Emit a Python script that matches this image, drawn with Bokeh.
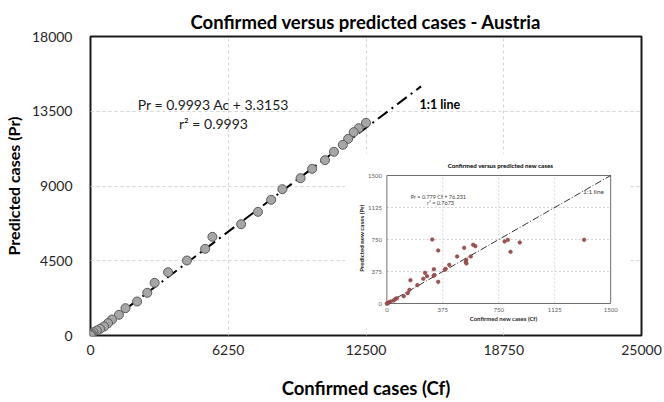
import math
from bokeh.plotting import figure
from bokeh.models import Range1d, FixedTicker, Label
from bokeh.core.properties import value
from bokeh.embed import file_html
from bokeh.resources import INLINE

# ---------------- data ----------------
# main chart: confirmed vs predicted cumulative cases
cf = [12499, 12170, 11944, 11690, 11450, 11046, 10641, 10057, 9532, 8708, 8197,
      7598, 6834, 5530, 5201, 4375, 3520, 2909, 2577, 2113, 1587, 1290, 976, 796,
      616, 436, 283, 135, 60, 20, 5]
pr = [12804, 12480, 12240, 11840, 11480, 11060, 10555, 10035, 9470, 8808, 8170,
      7445, 6700, 5940, 5218, 4515, 3810, 3170, 2570, 2047, 1645, 1245, 963, 742,
      542, 401, 301, 200, 110, 40, 10]
one_to_one_x = [0, 15000]
one_to_one_y = [0, 15000]
x_ticks = [0, 6250, 12500, 18750, 25000]
y_ticks = [0, 4500, 9000, 13500, 18000]

# inset: confirmed vs predicted new cases
new_cf = [304, 344, 518, 578, 593, 789, 811, 891, 829, 1322, 471, 562, 531, 529,
          533, 418, 393, 389, 315, 318, 313, 256, 269, 244, 344, 204, 158, 151,
          140, 113, 67, 56, 44, 24, 11, 7, 2, 0]
new_pr = [750, 621, 652, 688, 672, 727, 746, 715, 606, 746, 551, 551, 512, 484,
          470, 453, 406, 395, 402, 334, 325, 359, 320, 289, 254, 215, 273, 160,
          121, 86, 62, 51, 35, 23, 12, 4, 0, 0]
inset_line = [0, 1500]
inset_ticks = [0, 375, 750, 1125, 1500]

# ---------------- layout constants (pixels) ----------------
FONT = "Lato"
W, H = 664, 402
FL, FR, FT, FB = 87, 641, 36, 335          # main frame
IL, IR, IT, IB = 385, 610, 175, 303        # inset frame
BL, BR, BT, BB = 343, 627, 153, 328        # inset white panel
XMAX, YMAX = x_ticks[-1], y_ticks[-1]

p = figure(width=W, height=H, output_backend="svg", toolbar_location=None,
           x_range=Range1d(0, XMAX), y_range=Range1d(0, YMAX),
           min_border_left=FL, min_border_right=W - FR,
           min_border_top=FT, min_border_bottom=H - FB)
p.background_fill_color = "white"
p.border_fill_color = "white"
p.outline_line_color = "#1a1a1a"
p.outline_line_width = 2

p.title.text = "Confirmed versus predicted cases - Austria"
p.title.align = "center"
p.title.vertical_align = "top"
p.title.text_font = FONT
p.title.text_font_size = "18.5px"
p.title.text_font_style = "bold"
p.title.text_color = "black"
p.title.standoff = 4

p.xaxis.ticker = FixedTicker(ticks=x_ticks)
p.yaxis.ticker = FixedTicker(ticks=y_ticks)
for ax in (p.xaxis[0], p.yaxis[0]):
    ax.axis_line_color = None
    ax.major_tick_line_color = None
    ax.minor_tick_line_color = None
    ax.major_label_text_font = FONT
    ax.major_label_text_font_size = "14px"
    ax.major_label_text_color = "#262626"
    ax.axis_label_text_font = FONT
    ax.axis_label_text_font_style = "bold"
    ax.axis_label_text_color = "black"
p.xaxis.axis_label = "Confirmed cases (Cf)"
p.yaxis.axis_label = "Predicted cases (Pr)"
p.xaxis.axis_label_text_font_size = "18.5px"
p.yaxis.axis_label_text_font_size = "16px"
p.xaxis.major_label_standoff = 3
p.yaxis.major_label_standoff = 12
p.xaxis.axis_label_standoff = 19
p.yaxis.axis_label_standoff = 6
p.grid.grid_line_color = "#d4d4d4"
p.grid.grid_line_dash = "3 3"
p.grid.grid_line_width = 1

# main series
p.line(one_to_one_x, one_to_one_y, line_color="black", line_width=2,
       line_dash="12 5 2 5")
p.scatter(cf, pr, size=9, fill_color="#a6a6a6", line_color="#5a5a5a", line_width=1)


def fx(px):
    return (px - FL) / (FR - FL) * XMAX


def fy(py):
    return (FB - py) / (FB - FT) * YMAX


# inset drawn in a sub-coordinate system of the main plot
sub = p.subplot(x_source=Range1d(0, inset_ticks[-1]), y_source=Range1d(0, inset_ticks[-1]),
                x_target=Range1d(fx(IL), fx(IR)), y_target=Range1d(fy(IB), fy(IT)))
ux = inset_ticks[-1] / (IR - IL)
uy = inset_ticks[-1] / (IB - IT)
sub.quad(left=[(BL - IL) * ux], right=[(BR - IL) * ux],
         bottom=[-(BB - IB) * uy], top=[(IB - BT) * uy],
         fill_color="white", line_color=None)
mid = inset_ticks[1:-1]
sub.segment(x0=mid, y0=[inset_ticks[0]] * len(mid), x1=mid, y1=[inset_ticks[-1]] * len(mid),
            line_color="#d4d4d4", line_dash="2 2", line_width=1)
sub.segment(x0=[inset_ticks[0]] * len(mid), y0=mid, x1=[inset_ticks[-1]] * len(mid), y1=mid,
            line_color="#d4d4d4", line_dash="2 2", line_width=1)
sub.quad(left=[inset_ticks[0]], right=[inset_ticks[-1]], bottom=[inset_ticks[0]],
         top=[inset_ticks[-1]], fill_color=None, line_color="#6e6e6e", line_width=1)
sub.line(inset_line, inset_line, line_color="#333333", line_width=1, line_dash="7 2 1 2")
sub.scatter(new_cf, new_pr, size=3.6, fill_color="#a05252", line_color="#8c3f3f",
            line_width=0.6)
sub.text(x=inset_ticks, y=[inset_ticks[0]] * len(inset_ticks),
         text=[str(t) for t in inset_ticks], text_align="center", text_baseline="top",
         y_offset=4, text_font=value(FONT), text_font_size="6px", text_color="#595959")
sub.text(x=[inset_ticks[0]] * len(inset_ticks), y=inset_ticks,
         text=[str(t) for t in inset_ticks], text_align="right", text_baseline="middle",
         x_offset=-5, text_font=value(FONT), text_font_size="6px", text_color="#595959")


def lab(text, px, py, size, bold=False, align="center", angle=0.0, color="black"):
    p.add_layout(Label(x=px - FL, y=FB - py, x_units="screen", y_units="screen",
                       text=text, text_font=FONT, text_font_size=size,
                       text_font_style="bold" if bold else "normal",
                       text_align=align, text_baseline="middle", angle=angle,
                       text_color=color))


# texts inside the main frame
lab("Pr = 0.9993 Ac + 3.3153", 210, 104, "14px", color="#1a1a1a")
lab("r\u00b2 = 0.9993", 210, 123, "14px", color="#1a1a1a")
lab("1:1 line", 416, 104, "12.5px", bold=True, align="left")

# inset texts
lab("Confirmed versus predicted new cases", 497, 165, "6.2px", bold=True)
lab("Confirmed new cases (Cf)", 500, 318, "6px", bold=True, color="#262626")
lab("Predicted  new cases (Pr)", 358, 237, "6.2px", bold=True, angle=math.pi / 2,
    color="#262626")
lab("Pr = 0.779 Cf + 76.231", 435, 196, "5.5px", color="#404040")
lab("r\u00b2 = 0.7673", 437, 202, "5.5px", color="#404040")
lab("1:1 line", 590, 191, "6.5px", color="#404040")

open("out.html", "w").write(file_html(p, INLINE))
